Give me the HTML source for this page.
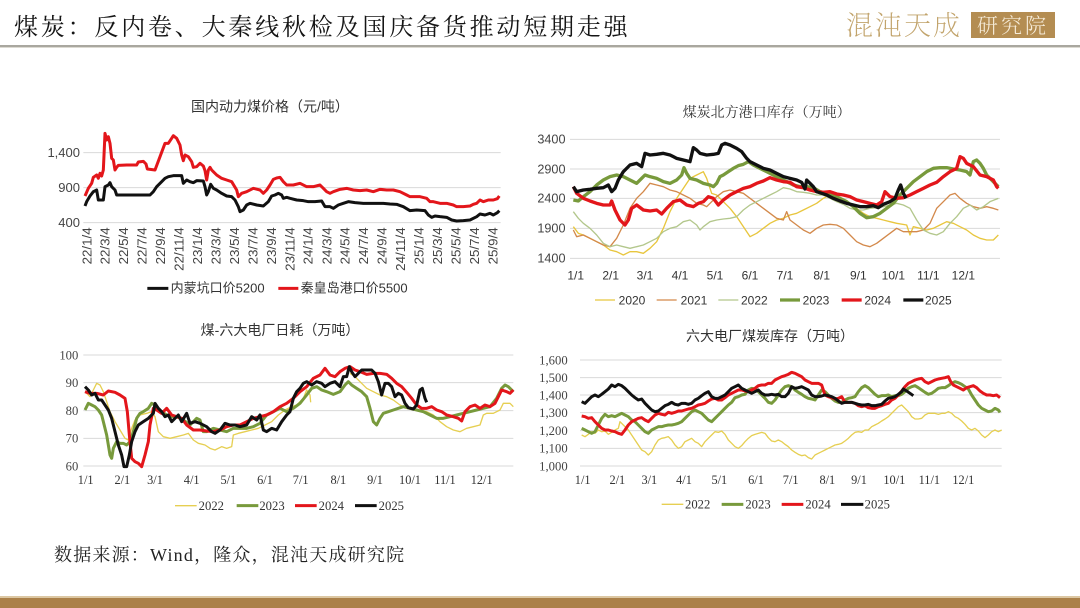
<!DOCTYPE html>
<html><head><meta charset="utf-8">
<style>
html,body{margin:0;padding:0;background:#fff;}
body{width:1080px;height:608px;position:relative;overflow:hidden;}
.t{position:absolute;left:14px;top:11px;font-family:"Liberation Serif","Noto Serif CJK SC",serif;font-size:24px;letter-spacing:2.8px;color:#151515;line-height:34px;white-space:nowrap;}
.hl{position:absolute;left:0;top:45px;width:1080px;height:2px;background:#a9a79f;}
.hl2{position:absolute;left:0;top:47px;width:1080px;height:1px;background:#dcdad2;}
.logo{position:absolute;left:846px;top:8px;font-family:"Noto Serif CJK SC",serif;font-size:27px;line-height:32px;color:#c2a46c;letter-spacing:2px;white-space:nowrap;font-weight:200;}
.box{position:absolute;left:971px;top:12px;width:84px;height:26px;background:#b48d52;color:#f6ecd9;font-family:"Noto Serif CJK SC",serif;font-size:21px;line-height:26px;text-align:center;letter-spacing:3px;font-weight:300;}
.src{position:absolute;left:54px;top:542px;font-family:"Liberation Serif","Noto Serif CJK SC",serif;font-size:18px;line-height:26px;color:#222;letter-spacing:1.2px;white-space:nowrap;}
.fb1{position:absolute;left:0;top:596px;width:1080px;height:2px;background:#dcc7a3;}
.fb2{position:absolute;left:0;top:598px;width:1080px;height:10px;background:#ab8049;}
svg{position:absolute;overflow:visible;}
.cjk{font-family:"Liberation Sans","Noto Sans CJK SC",sans-serif;}
.ser{font-family:"Liberation Serif","Noto Serif CJK SC",serif;}
</style></head><body>
<div class="t">煤炭：反内卷、大秦线秋检及国庆备货推动短期走强</div>
<div class="hl"></div><div class="hl2"></div>
<div class="logo">混沌天成</div>
<div class="box">研究院</div>

<!-- Chart 1 -->
<svg style="left:40px;top:90px" width="480" height="220" viewBox="0 0 1440 660">
<text x="690" y="64" text-anchor="middle" class="cjk" font-size="42" fill="#333">国内动力煤价格（元/吨）</text>
<g stroke="#d9d9d9" stroke-width="3">
<line x1="130" y1="188" x2="1382" y2="188"/><line x1="130" y1="293" x2="1382" y2="293"/><line x1="130" y1="398" x2="1382" y2="398"/>
</g>
<g class="cjk" font-size="39" fill="#444" text-anchor="end">
<text x="120" y="201">1,400</text><text x="120" y="306">900</text><text x="120" y="411">400</text>
</g>
<g class="cjk" font-size="40" fill="#444" text-anchor="end">
<text transform="translate(154,412) rotate(-90)">22/1/4</text>
<text transform="translate(209,412) rotate(-90)">22/3/4</text>
<text transform="translate(264,412) rotate(-90)">22/5/4</text>
<text transform="translate(320,412) rotate(-90)">22/7/4</text>
<text transform="translate(375,412) rotate(-90)">22/9/4</text>
<text transform="translate(431,412) rotate(-90)">22/11/4</text>
<text transform="translate(486,412) rotate(-90)">23/1/4</text>
<text transform="translate(541,412) rotate(-90)">23/3/4</text>
<text transform="translate(597,412) rotate(-90)">23/5/4</text>
<text transform="translate(652,412) rotate(-90)">23/7/4</text>
<text transform="translate(708,412) rotate(-90)">23/9/4</text>
<text transform="translate(763,412) rotate(-90)">23/11/4</text>
<text transform="translate(818,412) rotate(-90)">24/1/4</text>
<text transform="translate(874,412) rotate(-90)">24/3/4</text>
<text transform="translate(929,412) rotate(-90)">24/5/4</text>
<text transform="translate(984,412) rotate(-90)">24/7/4</text>
<text transform="translate(1040,412) rotate(-90)">24/9/4</text>
<text transform="translate(1095,412) rotate(-90)">24/11/4</text>
<text transform="translate(1151,412) rotate(-90)">25/1/4</text>
<text transform="translate(1206,412) rotate(-90)">25/3/4</text>
<text transform="translate(1261,412) rotate(-90)">25/5/4</text>
<text transform="translate(1317,412) rotate(-90)">25/7/4</text>
<text transform="translate(1372,412) rotate(-90)">25/9/4</text>
</g>
<g fill="none" stroke-width="9" stroke-linejoin="round">
<polyline stroke="#e3161b" points="135,318 145,295 155,280 160,262 170,255 175,265 180,250 185,258 190,240 195,130 200,150 205,140 210,160 215,205 220,210 225,240 230,232 235,226 260,225 290,225 295,216 310,214 318,222 322,237 345,240 360,200 375,160 385,160 395,145 400,137 410,145 420,165 425,195 430,212 435,195 445,200 455,215 460,232 470,230 480,220 490,228 495,242 500,270 505,240 510,232 515,240 520,245 530,255 545,265 560,270 575,275 590,300 595,320 605,310 620,305 640,295 660,300 670,310 680,300 690,285 700,268 710,264 720,262 730,275 740,285 760,285 780,280 800,290 820,290 840,285 850,295 860,305 870,310 880,305 900,298 920,295 940,300 960,302 980,300 1000,305 1020,298 1040,300 1060,300 1080,305 1100,315 1110,320 1140,320 1160,325 1170,335 1180,335 1200,340 1220,340 1240,345 1250,350 1270,350 1290,348 1300,343 1310,340 1320,330 1330,335 1345,330 1360,330 1372,326 1378,318"/>
<polyline stroke="#111" points="135,348 140,335 150,318 160,305 170,300 175,330 185,330 190,330 195,290 205,285 210,278 215,290 225,300 230,315 260,315 300,315 330,315 340,305 350,290 365,275 375,265 385,260 400,257 425,257 430,280 440,270 450,275 460,278 470,272 490,273 495,290 500,315 505,305 512,283 520,295 530,300 545,310 560,318 575,320 585,330 595,350 600,365 610,360 620,345 630,340 650,345 670,348 685,335 695,318 705,315 715,310 725,315 730,325 740,322 750,325 770,330 790,332 805,335 825,335 845,333 855,350 870,350 880,355 895,345 910,340 925,335 945,338 970,340 990,340 1010,340 1030,340 1050,342 1070,343 1090,350 1110,362 1130,360 1155,362 1165,375 1175,382 1185,378 1200,380 1220,382 1235,390 1250,393 1270,392 1290,390 1310,380 1320,372 1335,375 1350,370 1360,375 1372,368 1378,362"/>
</g>
<line x1="322" y1="595" x2="385" y2="595" stroke="#111" stroke-width="9"/>
<line x1="715" y1="595" x2="775" y2="595" stroke="#e3161b" stroke-width="9"/>
<g class="cjk" font-size="39" fill="#333">
<text x="392" y="608">内蒙坑口价5200</text><text x="782" y="608">秦皇岛港口价5500</text>
</g>
</svg>

<!-- Chart 2 -->
<svg style="left:530px;top:95px" width="480" height="220" viewBox="0 0 1440 660">
<text x="710" y="66" text-anchor="middle" class="ser" font-size="42" fill="#333">煤炭北方港口库存（万吨）</text>
<g stroke="#d9d9d9" stroke-width="3">
<line x1="120" y1="133" x2="1410" y2="133"/><line x1="120" y1="222" x2="1410" y2="222"/><line x1="120" y1="310" x2="1410" y2="310"/><line x1="120" y1="400" x2="1410" y2="400"/><line x1="120" y1="490" x2="1410" y2="490"/>
</g>
<g class="cjk" font-size="38" fill="#444">
<text x="22" y="146">3400</text><text x="22" y="235">2900</text><text x="22" y="323">2400</text><text x="22" y="413">1900</text><text x="22" y="503">1400</text>
</g>
<g class="cjk" font-size="36" fill="#333" text-anchor="middle">
<text x="137" y="553">1/1</text><text x="242" y="553">2/1</text><text x="345" y="553">3/1</text><text x="450" y="553">4/1</text><text x="555" y="553">5/1</text><text x="660" y="553">6/1</text><text x="765" y="553">7/1</text><text x="875" y="553">8/1</text><text x="985" y="553">9/1</text><text x="1090" y="553">10/1</text><text x="1195" y="553">11/1</text><text x="1300" y="553">12/1</text>
</g>
<g fill="none" stroke-linejoin="round">
<polyline stroke="#e8c63e" stroke-width="4" points="130,395 145,415 160,420 180,430 200,440 220,450 240,465 260,470 280,480 300,470 320,470 340,475 360,460 380,440 400,400 420,350 440,310 460,280 480,250 500,240 520,230 530,250 540,280 545,295 560,300 580,320 600,340 620,365 640,395 660,425 680,415 700,400 720,385 740,375 760,370 780,360 800,355 820,345 840,335 860,325 880,310 900,300 920,310 940,320 960,330 980,340 1000,355 1020,365 1040,370 1060,375 1080,380 1100,385 1130,390 1140,420 1150,395 1170,400 1190,405 1210,400 1230,390 1250,380 1270,385 1290,395 1310,405 1330,420 1350,430 1370,435 1390,435 1405,420"/>
<polyline stroke="#d3894b" stroke-width="4" points="130,405 140,425 160,420 180,430 200,440 220,450 240,455 260,430 280,390 300,340 320,310 340,290 360,265 380,270 400,275 420,285 440,290 460,300 480,310 500,325 520,330 530,335 545,320 560,305 580,290 600,285 620,290 640,295 660,310 680,325 700,340 720,355 740,370 760,375 770,350 780,375 800,390 820,405 840,415 860,400 880,390 900,388 920,390 940,400 960,420 980,440 1000,450 1020,455 1040,445 1060,430 1080,415 1100,400 1120,410 1140,410 1160,410 1180,405 1200,385 1220,340 1240,320 1260,300 1275,295 1290,310 1310,325 1330,335 1350,340 1370,335 1390,340 1405,345"/>
<polyline stroke="#b3c78c" stroke-width="4" points="130,350 145,370 160,385 180,400 200,420 220,445 240,455 260,450 280,455 300,460 320,455 340,450 360,440 380,430 400,410 420,400 440,395 460,380 480,375 500,390 510,405 520,395 540,380 560,375 580,372 600,370 620,365 640,345 660,330 680,320 700,310 720,300 740,290 760,278 780,282 800,290 820,292 840,295 860,300 880,300 900,310 920,320 940,328 960,340 980,345 1000,345 1020,340 1040,338 1060,335 1080,330 1100,325 1120,330 1140,340 1160,375 1180,405 1200,415 1220,420 1240,410 1260,385 1280,365 1300,340 1320,330 1340,345 1360,335 1380,320 1405,310"/>
<polyline stroke="#789a3c" stroke-width="10" points="130,315 145,318 160,305 180,290 200,270 220,255 240,245 260,240 280,245 300,255 320,265 335,250 345,240 360,245 380,250 400,260 420,265 440,255 455,240 462,218 470,235 480,250 500,255 520,265 540,270 550,275 560,265 570,245 580,240 595,230 610,220 625,212 640,208 655,200 670,210 690,220 710,230 730,240 750,250 770,260 790,270 810,275 830,275 850,278 870,290 890,295 910,300 930,310 950,320 970,335 990,355 1010,368 1030,365 1050,355 1070,340 1090,325 1110,300 1130,280 1150,260 1170,245 1190,230 1210,220 1230,218 1250,218 1270,222 1290,225 1310,230 1320,240 1330,200 1340,195 1350,205 1360,220 1370,240 1390,260 1405,275"/>
<polyline stroke="#e3161b" stroke-width="10" points="130,275 140,295 160,310 180,318 200,325 220,330 240,330 245,318 255,345 270,375 285,390 295,375 305,340 320,330 340,345 360,348 380,345 395,357 410,340 430,320 450,315 470,330 490,335 505,325 520,320 535,305 550,310 565,330 580,315 600,300 620,290 640,280 660,275 680,265 700,258 720,248 740,255 760,260 780,262 800,275 820,278 840,285 860,290 880,292 900,290 920,297 940,300 960,305 980,315 1000,320 1020,325 1040,330 1055,320 1065,290 1080,305 1100,310 1120,308 1140,300 1160,290 1180,280 1200,270 1220,262 1240,245 1260,230 1280,220 1290,185 1300,190 1310,205 1330,215 1350,240 1370,245 1390,255 1400,275 1405,280"/>
<polyline stroke="#111" stroke-width="10" points="130,275 140,290 160,285 180,283 200,280 220,278 235,270 245,290 255,280 265,255 280,230 300,210 320,205 335,215 345,175 360,180 380,178 400,175 420,180 430,185 440,190 460,195 480,200 490,158 500,165 510,175 530,180 550,178 565,175 575,150 585,145 600,150 620,160 635,170 650,190 660,200 680,210 700,220 720,225 740,235 760,245 780,250 800,255 815,262 825,282 830,255 840,265 850,275 860,290 875,295 890,300 910,310 930,318 950,325 970,330 990,335 1010,335 1030,332 1045,338 1060,328 1080,320 1095,310 1105,285 1112,270 1120,295 1128,310"/>
</g>
<line x1="195" y1="615" x2="255" y2="615" stroke="#e8c63e" stroke-width="4"/>
<line x1="380" y1="615" x2="440" y2="615" stroke="#d3894b" stroke-width="4"/>
<line x1="565" y1="615" x2="625" y2="615" stroke="#b3c78c" stroke-width="4"/>
<line x1="750" y1="615" x2="810" y2="615" stroke="#789a3c" stroke-width="10"/>
<line x1="935" y1="615" x2="995" y2="615" stroke="#e3161b" stroke-width="10"/>
<line x1="1120" y1="615" x2="1180" y2="615" stroke="#111" stroke-width="10"/>
<g class="cjk" font-size="36" fill="#333">
<text x="266" y="628">2020</text><text x="452" y="628">2021</text><text x="633" y="628">2022</text><text x="818" y="628">2023</text><text x="1003" y="628">2024</text><text x="1185" y="628">2025</text>
</g>
</svg>

<!-- Chart 3 -->
<svg style="left:40px;top:315px" width="480" height="210" viewBox="0 0 1440 630">
<text x="720" y="60" text-anchor="middle" class="cjk" font-size="42" fill="#333">煤-六大电厂日耗（万吨）</text>
<g stroke="#d9d9d9" stroke-width="3">
<line x1="130" y1="120" x2="1420" y2="120"/><line x1="130" y1="203" x2="1420" y2="203"/><line x1="130" y1="287" x2="1420" y2="287"/><line x1="130" y1="370" x2="1420" y2="370"/><line x1="130" y1="453" x2="1420" y2="453"/>
</g>
<g class="ser" font-size="38" fill="#444" text-anchor="end">
<text x="115" y="133">100</text><text x="115" y="216">90</text><text x="115" y="300">80</text><text x="115" y="383">70</text><text x="115" y="466">60</text>
</g>
<g class="ser" font-size="37" fill="#333" text-anchor="middle">
<text x="137" y="507">1/1</text><text x="247" y="507">2/1</text><text x="345" y="507">3/1</text><text x="455" y="507">4/1</text><text x="565" y="507">5/1</text><text x="675" y="507">6/1</text><text x="782" y="507">7/1</text><text x="895" y="507">8/1</text><text x="1005" y="507">9/1</text><text x="1110" y="507">10/1</text><text x="1215" y="507">11/1</text><text x="1325" y="507">12/1</text>
</g>
<g fill="none" stroke-linejoin="round">
<polyline stroke="#e6cf52" stroke-width="4" points="135,230 150,245 160,225 170,205 180,210 190,230 200,260 210,290 225,320 240,345 255,370 265,375 275,340 285,315 300,300 320,295 335,290 345,305 355,350 370,365 390,370 410,365 430,360 445,355 460,375 475,385 495,390 510,400 525,405 545,395 560,400 575,395 580,360 595,355 615,350 635,345 655,340 675,330 695,320 715,300 735,285 755,275 770,270 780,260 790,250 800,225 810,240 812,262"/>
<polyline stroke="#e6cf52" stroke-width="4" points="930,175 945,185 960,200 980,220 1000,230 1020,240 1040,245 1060,255 1080,270 1100,280 1120,285 1140,285 1160,290 1180,300 1200,320 1220,335 1240,345 1260,350 1280,340 1300,335 1320,330 1330,300 1340,295 1360,295 1380,285 1390,265 1410,265 1420,275"/>
<polyline stroke="#789a3c" stroke-width="9" points="135,285 145,265 155,270 165,275 175,285 185,300 190,320 200,360 210,420 215,430 220,400 230,380 240,385 250,385 260,390 270,380 280,350 290,310 300,295 310,290 325,280 335,265 345,270 355,285 365,290 380,300 395,305 410,305 430,315 450,330 470,310 480,315 490,350 500,350 520,340 540,345 560,350 580,340 600,340 620,340 640,335 660,325 680,300 700,290 720,280 740,290 760,280 780,265 800,240 815,220 830,215 845,225 860,230 880,238 900,230 915,210 925,200 935,210 950,220 965,230 980,245 990,280 1000,320 1010,330 1020,310 1030,295 1045,290 1060,285 1075,280 1090,275 1110,280 1130,285 1150,290 1170,300 1190,310 1210,310 1230,305 1250,300 1270,295 1290,290 1310,285 1330,280 1350,275 1370,250 1385,220 1395,210 1405,215 1420,230"/>
<polyline stroke="#e3161b" stroke-width="9" points="135,230 150,235 170,235 190,240 205,228 225,232 240,240 255,250 262,290 268,360 275,430 285,440 295,445 305,455 315,420 325,380 330,330 340,280 350,285 365,295 380,280 395,300 410,305 425,310 440,330 460,345 480,345 500,348 520,350 540,345 560,335 580,330 600,330 620,320 640,310 660,305 680,300 700,290 720,275 740,265 760,250 780,230 800,215 820,190 840,180 855,160 870,180 885,185 900,170 915,160 930,155 945,165 960,170 980,178 1000,175 1020,175 1040,178 1055,190 1070,205 1085,215 1100,232 1115,250 1130,270 1145,280 1160,280 1175,275 1190,285 1205,290 1220,300 1240,305 1255,310 1265,318 1275,290 1290,275 1305,270 1320,280 1335,270 1350,275 1365,265 1375,245 1385,225 1400,230 1410,235 1420,225"/>
<polyline stroke="#111" stroke-width="9" points="135,215 145,225 155,240 165,235 175,255 185,255 195,270 205,285 215,310 225,350 235,390 245,420 252,455 260,455 268,420 275,380 285,350 295,330 310,320 325,310 340,295 345,265 355,280 365,290 375,305 385,300 395,320 405,310 415,300 425,320 440,295 450,325 465,320 480,325 500,335 515,350 525,355 540,345 555,325 570,330 585,330 600,335 620,330 635,305 650,315 660,300 670,345 680,350 695,340 710,345 725,320 740,300 750,290 760,250 770,230 780,220 790,205 800,200 815,210 830,200 845,205 855,215 870,205 885,200 900,215 910,185 920,185 928,155 935,170 945,185 955,175 965,165 980,165 995,165 1005,175 1015,200 1025,240 1035,205 1045,205 1055,215 1065,245 1075,235 1085,240 1095,265 1105,278 1120,282 1130,270 1140,225 1147,220 1155,250 1160,262"/>
</g>
<line x1="405" y1="572" x2="470" y2="572" stroke="#e6cf52" stroke-width="4"/>
<line x1="590" y1="572" x2="655" y2="572" stroke="#789a3c" stroke-width="9"/>
<line x1="765" y1="572" x2="830" y2="572" stroke="#e3161b" stroke-width="9"/>
<line x1="945" y1="572" x2="1010" y2="572" stroke="#111" stroke-width="9"/>
<g class="ser" font-size="38" fill="#333">
<text x="476" y="585">2022</text><text x="658" y="585">2023</text><text x="836" y="585">2024</text><text x="1016" y="585">2025</text>
</g>
</svg>

<!-- Chart 4 -->
<svg style="left:530px;top:315px" width="480" height="210" viewBox="0 0 1440 630">
<text x="720" y="78" text-anchor="middle" class="cjk" font-size="42" fill="#333">六大电厂煤炭库存（万吨）</text>
<g stroke="#d9d9d9" stroke-width="3">
<line x1="150" y1="135" x2="1415" y2="135"/><line x1="150" y1="188" x2="1415" y2="188"/><line x1="150" y1="240" x2="1415" y2="240"/><line x1="150" y1="293" x2="1415" y2="293"/><line x1="150" y1="347" x2="1415" y2="347"/><line x1="150" y1="400" x2="1415" y2="400"/><line x1="150" y1="453" x2="1415" y2="453"/>
</g>
<g class="ser" font-size="38" fill="#444" text-anchor="end">
<text x="113" y="148">1,600</text><text x="113" y="201">1,500</text><text x="113" y="253">1,400</text><text x="113" y="306">1,300</text><text x="113" y="360">1,200</text><text x="113" y="413">1,100</text><text x="113" y="466">1,000</text>
</g>
<g class="ser" font-size="37" fill="#333" text-anchor="middle">
<text x="158" y="507">1/1</text><text x="262" y="507">2/1</text><text x="358" y="507">3/1</text><text x="462" y="507">4/1</text><text x="568" y="507">5/1</text><text x="678" y="507">6/1</text><text x="782" y="507">7/1</text><text x="892" y="507">8/1</text><text x="987" y="507">9/1</text><text x="1093" y="507">10/1</text><text x="1198" y="507">11/1</text><text x="1300" y="507">12/1</text>
</g>
<g fill="none" stroke-linejoin="round">
<polyline stroke="#e6cf52" stroke-width="4" points="155,360 165,365 175,358 185,350 195,355 205,345 215,350 225,348 235,358 245,352 255,345 265,340 270,320 280,330 295,345 305,360 315,375 325,390 335,405 345,410 355,420 365,410 375,390 385,375 395,370 405,368 415,365 425,375 435,390 445,400 455,395 465,380 475,375 485,370 495,380 505,385 515,395 525,380 535,370 545,360 555,350 565,352 575,348 585,358 595,375 605,385 615,395 625,400 635,392 645,380 655,370 665,362 675,358 685,355 695,352 705,355 715,368 725,378 735,380 745,375 755,380 765,388 775,395 785,405 795,412 805,418 815,422 825,420 835,428 845,432 855,420 865,415 875,410 885,405 895,400 905,395 915,390 925,388 935,385 945,378 955,370 965,360 975,352 985,350 995,352 1005,345 1015,345 1025,335 1035,330 1045,325 1055,318 1065,312 1075,305 1085,295 1095,285 1105,275 1115,270 1125,280 1135,290 1145,305 1155,312 1165,312 1175,310 1185,300 1195,295 1205,295 1215,295 1225,298 1235,295 1245,295 1255,290 1265,295 1275,305 1285,310 1295,318 1305,328 1315,340 1325,345 1335,340 1345,348 1355,360 1365,368 1375,360 1385,350 1395,345 1405,350 1415,345"/>
<polyline stroke="#789a3c" stroke-width="9" points="155,340 165,345 175,350 185,355 195,350 205,330 215,310 225,298 235,305 245,302 255,305 265,300 275,295 285,300 295,305 305,315 315,320 325,330 335,340 345,350 355,355 365,345 375,340 385,335 395,335 405,332 415,330 425,330 435,328 445,325 455,320 465,310 475,300 485,290 495,285 505,290 515,295 525,305 535,315 545,320 555,310 565,300 575,290 585,280 595,270 605,262 615,248 625,245 635,240 645,238 655,225 665,220 675,222 685,230 695,240 705,250 715,262 725,265 735,255 745,240 755,225 765,215 775,212 785,215 795,225 805,232 815,238 825,245 835,250 845,252 855,255 865,240 875,225 885,230 895,240 905,250 915,258 925,262 935,262 945,255 955,250 965,248 975,245 985,230 995,218 1005,212 1015,218 1025,228 1035,238 1045,245 1055,242 1065,242 1075,240 1085,245 1095,242 1105,242 1115,238 1125,230 1135,220 1145,215 1155,212 1165,218 1175,225 1185,232 1195,238 1205,235 1215,228 1225,220 1235,218 1245,218 1255,212 1265,205 1275,200 1285,203 1295,208 1305,215 1315,222 1325,240 1335,255 1345,270 1355,280 1365,285 1375,290 1385,288 1395,280 1405,285 1410,292"/>
<polyline stroke="#e3161b" stroke-width="9" points="155,303 165,305 175,310 185,308 195,320 205,330 215,340 225,345 235,345 245,348 255,350 265,355 275,358 285,345 295,330 305,320 315,315 325,310 335,308 345,315 355,320 365,310 375,300 385,295 395,298 405,300 415,292 425,295 435,292 445,288 455,288 465,285 475,282 485,280 495,275 505,270 515,268 525,265 535,258 545,252 555,250 565,255 575,255 585,248 595,240 605,235 615,230 625,225 635,225 645,228 655,230 665,225 675,220 685,212 695,210 705,210 715,205 725,205 735,195 745,190 755,185 765,182 775,178 785,172 795,175 805,180 815,185 825,195 835,200 845,205 855,205 865,205 875,210 885,240 895,245 905,248 915,252 925,250 935,245 945,262 955,262 965,262 975,265 985,272 995,275 1005,272 1015,278 1025,280 1035,280 1045,275 1055,272 1065,268 1075,265 1085,255 1095,250 1105,240 1115,228 1125,215 1135,205 1145,200 1155,195 1165,192 1175,190 1185,200 1195,205 1205,200 1215,195 1225,192 1235,190 1245,188 1255,185 1262,200 1270,210 1280,215 1290,220 1300,225 1310,218 1320,215 1330,212 1340,218 1350,228 1360,235 1370,240 1380,240 1390,242 1400,240 1410,248"/>
<polyline stroke="#111" stroke-width="9" points="155,260 165,265 175,255 185,245 195,240 205,245 215,238 225,230 235,222 245,210 255,215 265,208 275,212 285,220 295,230 305,240 315,248 325,255 335,252 345,265 355,275 365,285 375,290 385,288 395,280 405,272 415,268 425,262 435,268 445,270 455,265 465,265 475,268 485,265 495,255 505,250 515,242 525,235 535,230 545,245 555,250 565,250 575,245 585,240 595,230 605,220 615,215 625,210 635,220 645,225 655,230 665,235 675,230 685,225 695,235 705,240 715,240 725,238 735,240 745,238 755,245 765,245 775,235 785,215 795,220 805,218 815,215 825,220 835,225 845,240 855,245 865,245 875,243 885,240 895,242 905,245 915,250 925,258 935,265 945,262 955,262 965,262 975,265 985,268 995,270 1005,270 1015,268 1025,272 1035,272 1045,270 1055,268 1065,258 1075,250 1085,248 1095,245 1105,238 1115,230 1120,222 1130,228 1140,235 1150,242"/>
</g>
<line x1="395" y1="568" x2="460" y2="568" stroke="#e6cf52" stroke-width="4"/>
<line x1="575" y1="568" x2="640" y2="568" stroke="#789a3c" stroke-width="9"/>
<line x1="755" y1="568" x2="820" y2="568" stroke="#e3161b" stroke-width="9"/>
<line x1="933" y1="568" x2="1000" y2="568" stroke="#111" stroke-width="9"/>
<g class="ser" font-size="38" fill="#333">
<text x="465" y="581">2022</text><text x="646" y="581">2023</text><text x="826" y="581">2024</text><text x="1004" y="581">2025</text>
</g>
</svg>

<div class="src">数据来源：Wind，隆众，混沌天成研究院</div>
<div class="fb1"></div><div class="fb2"></div>
</body></html>
